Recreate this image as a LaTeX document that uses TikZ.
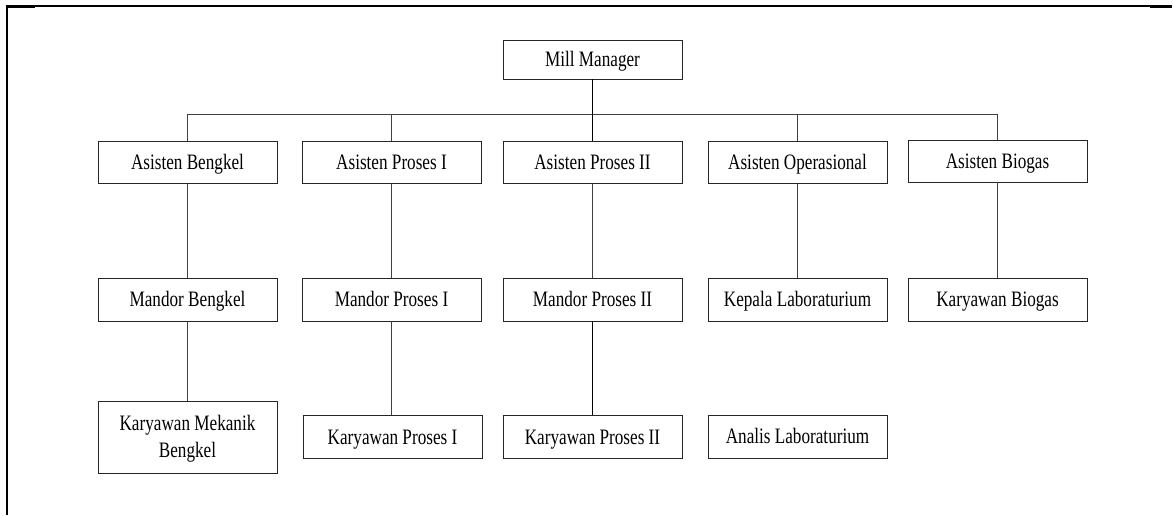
\documentclass[tikz,border=0pt]{standalone}
\usepackage{fontspec}
\setmainfont{Liberation Serif}[FakeStretch=0.78]
\begin{document}
\begin{tikzpicture}[x=1pt,y=-1pt,
  orgbox/.style={draw=black!85,line width=0.8pt,minimum width=179pt,minimum height=42pt,inner sep=0pt,align=center,text height=14.5pt,text depth=0pt,font=\fontsize{22}{27}\selectfont,text=black},
  link/.style={draw=black!75,line width=0.9pt},
  strong/.style={draw=black,line width=1.3pt},
  frame/.style={draw=black,line width=2pt}]
\useasboundingbox (0,0) rectangle (1174,515);
% frame
\draw[frame] (7,515) -- (7,6) -- (1172,6);
\draw[black,line width=3pt] (7,6.5) -- (35,6.5);
\draw[black,line width=3pt] (1150,6.5) -- (1172,6.5);
% nodes
\node[orgbox,minimum height=39pt] (mm) at (592.5,59.5) {Mill Manager};
\node[orgbox] (ab) at (187.5,162.5) {Asisten Bengkel};
\node[orgbox] (ap1) at (391.5,162.5) {Asisten Proses I};
\node[orgbox] (ap2) at (592.5,162.5) {Asisten Proses II};
\node[orgbox] (ao) at (797.5,162.5) {Asisten Operasional};
\node[orgbox] (abio) at (997.5,161) {Asisten Biogas};
\node[orgbox,minimum height=43pt] (mb) at (187.5,299.5) {Mandor Bengkel};
\node[orgbox,minimum height=43pt] (mp1) at (391.5,299.5) {Mandor Proses I};
\node[orgbox,minimum height=43pt] (mp2) at (592.5,299.5) {Mandor Proses II};
\node[orgbox,minimum height=43pt] (kl) at (797.5,299.5) {Kepala Laboraturium};
\node[orgbox,minimum height=43pt] (kb) at (997.5,299.5) {Karyawan Biogas};
\node[orgbox,minimum height=72pt,text height=41.5pt] (kmb) at (187.5,437) {Karyawan Mekanik\\Bengkel};
\node[orgbox,minimum height=43pt] (kp1) at (392.5,437) {Karyawan Proses I};
\node[orgbox,minimum height=43pt] (kp2) at (592.5,437) {Karyawan Proses II};
\node[orgbox,minimum height=43pt] (al) at (797.5,436.5) {Analis Laboraturium};
% bus
\coordinate (busL) at (187.5,114);
\coordinate (busR) at (997.5,114);
\draw[link] (busL) -- (busR);
\draw[strong] (mm.south) -- (ap2.north);
\foreach \n in {ab,ap1,ao,abio}{\draw[link] (\n.north) -- (\n.north |- busL);}
% verticals
\draw[link] (ab) -- (mb);
\draw[link] (mb) -- (kmb);
\draw[link] (ap1) -- (mp1);
\draw[link] (mp1.south) -- (mp1.south |- kp1.north);
\draw[link] (ap2) -- (mp2);
\draw[strong] (mp2) -- (kp2);
\draw[link] (ao) -- (kl);
\draw[link] (abio) -- (kb);
\end{tikzpicture}
\end{document}
